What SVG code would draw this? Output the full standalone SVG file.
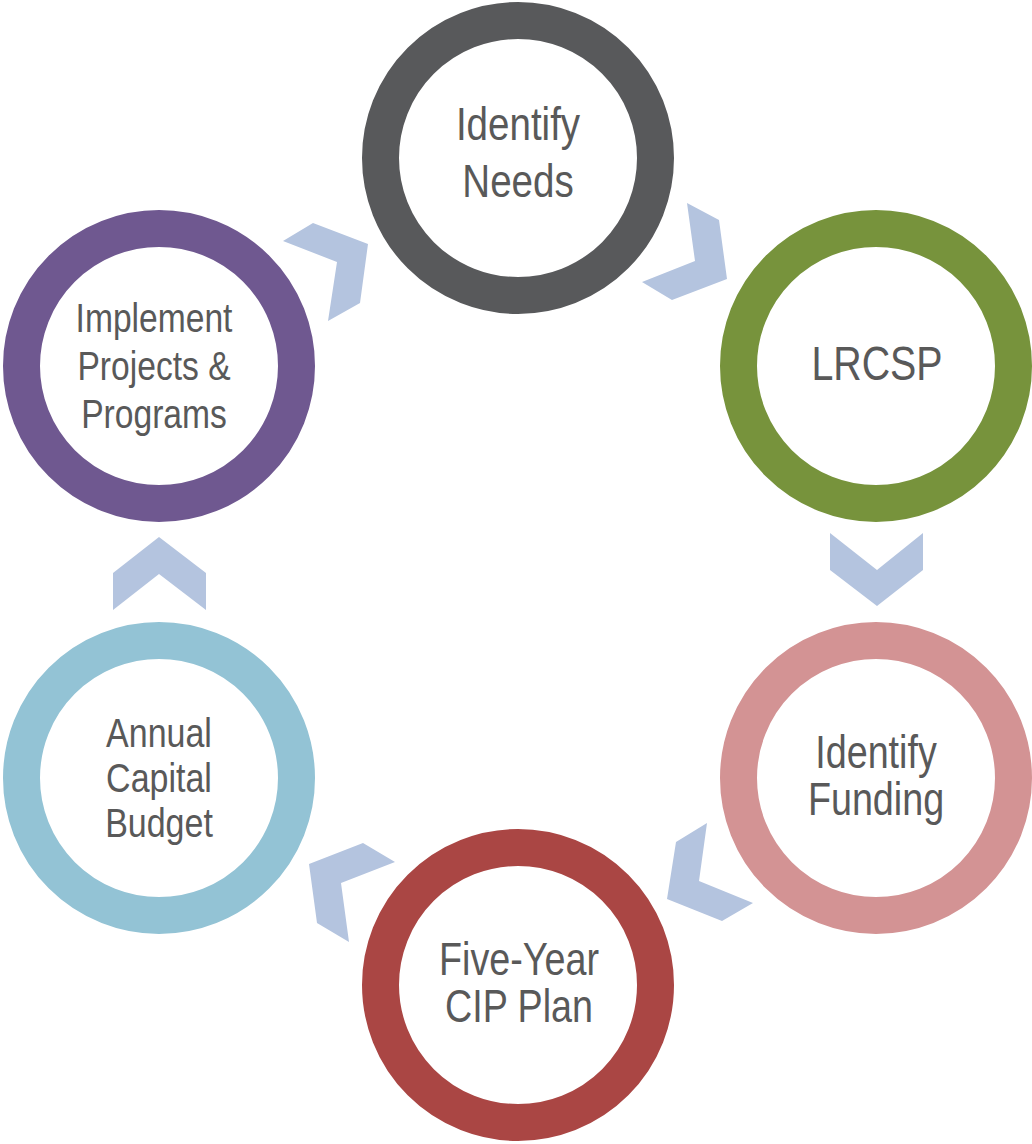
<svg xmlns="http://www.w3.org/2000/svg" width="1032" height="1144" viewBox="0 0 1032 1144">
<style>
.ring{fill:#fff;stroke-width:37}
.lbl{font-family:"Liberation Sans",Arial,sans-serif;fill:#595959;text-anchor:middle}
.chev{fill:#B4C4DF}
</style>
<rect width="1032" height="1144" fill="#fff"/>
<g id="connectors">
<polygon class="chev" points="687,203 719,220 727,279 672,300 642,282 695,261"/>
<polygon class="chev" points="830,533 877,570 923,533 923,570 877,606 830,570"/>
<polygon class="chev" points="707,823 699,881 753,903 722,921 667,899 676,842"/>
<polygon class="chev" points="363,843 395,862 341,883 349,942 317,923 309,864"/>
<polygon class="chev" points="159,537 206,573 206,610 159,574 113,610 113,573"/>
<polygon class="chev" points="283,241 313,223 368,244 360,303 328,321 337,262"/>
</g>
<g id="identify-needs">
<circle class="ring" cx="518" cy="158" r="137.5" stroke="#58595B"/>
<text class="lbl" font-size="47" transform="translate(518,140) scale(0.82,1)">Identify</text>
<text class="lbl" font-size="47" transform="translate(518,197) scale(0.82,1)">Needs</text>
</g>
<g id="lrcsp">
<circle class="ring" cx="876" cy="366" r="137.5" stroke="#77933C"/>
<text class="lbl" font-size="48" transform="translate(877,380) scale(0.82,1)">LRCSP</text>
</g>
<g id="identify-funding">
<circle class="ring" cx="876" cy="778" r="137.5" stroke="#D39394"/>
<text class="lbl" font-size="46" transform="translate(876,768) scale(0.82,1)">Identify</text>
<text class="lbl" font-size="46" transform="translate(876,815) scale(0.82,1)">Funding</text>
</g>
<g id="five-year-cip">
<circle class="ring" cx="518" cy="985" r="137.5" stroke="#AA4644"/>
<text class="lbl" font-size="46" transform="translate(519,975) scale(0.82,1)">Five-Year</text>
<text class="lbl" font-size="46" transform="translate(519,1022) scale(0.82,1)">CIP Plan</text>
</g>
<g id="annual-capital-budget">
<circle class="ring" cx="159" cy="778" r="137.5" stroke="#93C3D5"/>
<text class="lbl" font-size="40" transform="translate(159,747) scale(0.85,1)">Annual</text>
<text class="lbl" font-size="40" transform="translate(159,792) scale(0.85,1)">Capital</text>
<text class="lbl" font-size="40" transform="translate(159,837) scale(0.85,1)">Budget</text>
</g>
<g id="implement">
<circle class="ring" cx="159" cy="366" r="137.5" stroke="#6F5890"/>
<text class="lbl" font-size="41" transform="translate(154,332) scale(0.82,1)">Implement</text>
<text class="lbl" font-size="41" transform="translate(154,380) scale(0.82,1)">Projects &amp;</text>
<text class="lbl" font-size="41" transform="translate(154,428) scale(0.82,1)">Programs</text>
</g>
</svg>
